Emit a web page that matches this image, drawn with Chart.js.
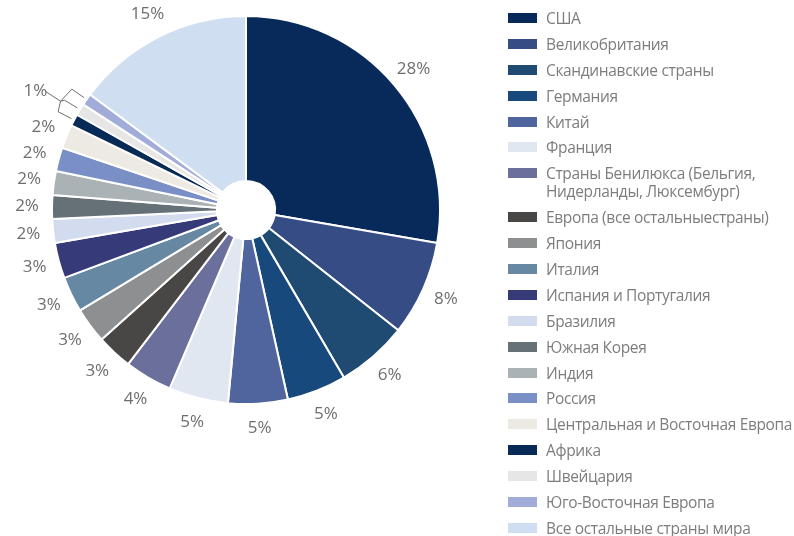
<!DOCTYPE html>
<html lang="ru">
<head>
<meta charset="utf-8">
<title>Распределение по странам</title>
<script src="https://cdn.jsdelivr.net/npm/chart.js@4/dist/chart.umd.min.js"></script>
<style>
  html, body { margin: 0; padding: 0; background: #fff; }
  #wrap { position: relative; width: 794px; height: 536px; overflow: hidden; }
  #pie { position: absolute; left: 0; top: 0; }
  #legend {
    position: absolute; left: 508px; top: 9px; margin: 0; padding: 0; list-style: none;
    font-family: "Open Sans", "Noto Sans", sans-serif; font-size: 15.5px; letter-spacing: -0.35px;
    line-height: 18px; color: #7d7d7d;
  }
  #legend li { position: relative; padding-left: 38px; margin-bottom: 7.9px; white-space: nowrap; }
  #legend .sw { position: absolute; left: 0; top: 4px; width: 29px; height: 10px; }
</style>
</head>
<body>
<div id="wrap">
  <canvas id="pie" width="794" height="536"></canvas>
  <ul id="legend"></ul>
</div>
<script>
// доли по странам, %
const countries = [
  'США', 'Великобритания', 'Скандинавские страны', 'Германия', 'Китай', 'Франция',
  ['Страны Бенилюкса (Бельгия,', 'Нидерланды, Люксембург)'],
  'Европа (все остальныестраны)', 'Япония', 'Италия', 'Испания и Португалия', 'Бразилия',
  'Южная Корея', 'Индия', 'Россия', 'Центральная и Восточная Европа', 'Африка',
  'Швейцария', 'Юго-Восточная Европа', 'Все остальные страны мира'
];
const shares = [28, 8, 6, 5, 5, 5, 4, 3, 3, 3, 3, 2, 2, 2, 2, 2, 1, 1, 1, 15];
const colors = [
  '#072a5a', '#354c84', '#1f4a72', '#17497c', '#50649e', '#e0e7f1', '#6a6f9b',
  '#484746', '#8e8f90', '#6688a3', '#373a78', '#d3dcef', '#667077', '#aab2b6',
  '#798fc6', '#ede9e3', '#082a56', '#e6e6e6', '#a2acd8', '#cfdff1'
];
// маленькие сектора, подписанные одной общей меткой
const grouped = [16, 17, 18];

const labelColor = '#6e6e6e';
const labelFont = '17px "Open Sans", "Noto Sans", sans-serif';

function polar(arc, angle, r) {
  return { x: arc.x + Math.cos(angle) * r, y: arc.y + Math.sin(angle) * r };
}
function midAngle(arc) {
  return (arc.startAngle + arc.endAngle) / 2;
}

const outsideLabels = {
  id: 'outsideLabels',
  afterDatasetsDraw(chart) {
    const ctx = chart.ctx;
    const arcs = chart.getDatasetMeta(0).data;
    ctx.save();
    ctx.font = labelFont;
    ctx.fillStyle = labelColor;
    ctx.textAlign = 'center';
    ctx.textBaseline = 'middle';
    arcs.forEach((arc, i) => {
      if (grouped.includes(i)) return;
      const p = polar(arc, midAngle(arc), arc.outerRadius + 25);
      ctx.fillText(shares[i] + '%', p.x, p.y);
    });

    // общая метка "1%" со скобкой на три сектора
    const mid = arcs[grouped[1]];
    const a = midAngle(mid);
    const lp = polar(mid, a - 0.03, mid.outerRadius + 48);
    ctx.fillText(shares[grouped[1]] + '%', lp.x, lp.y);
    ctx.strokeStyle = '#6e6e6e';
    ctx.lineWidth = 1;
    ctx.beginPath();
    const from = polar(mid, a - 0.01, mid.outerRadius + 39);
    const node = polar(mid, a - 0.014, mid.outerRadius + 21);
    ctx.moveTo(from.x, from.y);
    ctx.lineTo(node.x, node.y);
    grouped.forEach(i => {
      const arc = arcs[i];
      const ang = midAngle(arc);
      const knee = polar(arc, ang, arc.outerRadius + 18);
      const end = polar(arc, ang, arc.outerRadius + 3);
      ctx.moveTo(node.x, node.y);
      ctx.lineTo(knee.x, knee.y);
      ctx.lineTo(end.x, end.y);
    });
    ctx.stroke();
    ctx.restore();
  }
};

new Chart(document.getElementById('pie'), {
  type: 'doughnut',
  data: {
    labels: countries,
    datasets: [{
      data: shares,
      backgroundColor: colors,
      borderColor: '#ffffff',
      borderWidth: 2
    }]
  },
  options: {
    responsive: false,
    animation: false,
    cutout: '15%',
    layout: { padding: { left: 51, top: 15, right: 353, bottom: 131 } },
    plugins: { legend: { display: false }, tooltip: { enabled: false } }
  },
  plugins: [outsideLabels]
});

// легенда справа
const legend = document.getElementById('legend');
countries.forEach((name, i) => {
  const li = document.createElement('li');
  const sw = document.createElement('span');
  sw.className = 'sw';
  sw.style.background = colors[i];
  li.appendChild(sw);
  const lines = Array.isArray(name) ? name : [name];
  lines.forEach((t, k) => {
    if (k) li.appendChild(document.createElement('br'));
    li.appendChild(document.createTextNode(t));
  });
  legend.appendChild(li);
});
</script>
</body>
</html>
